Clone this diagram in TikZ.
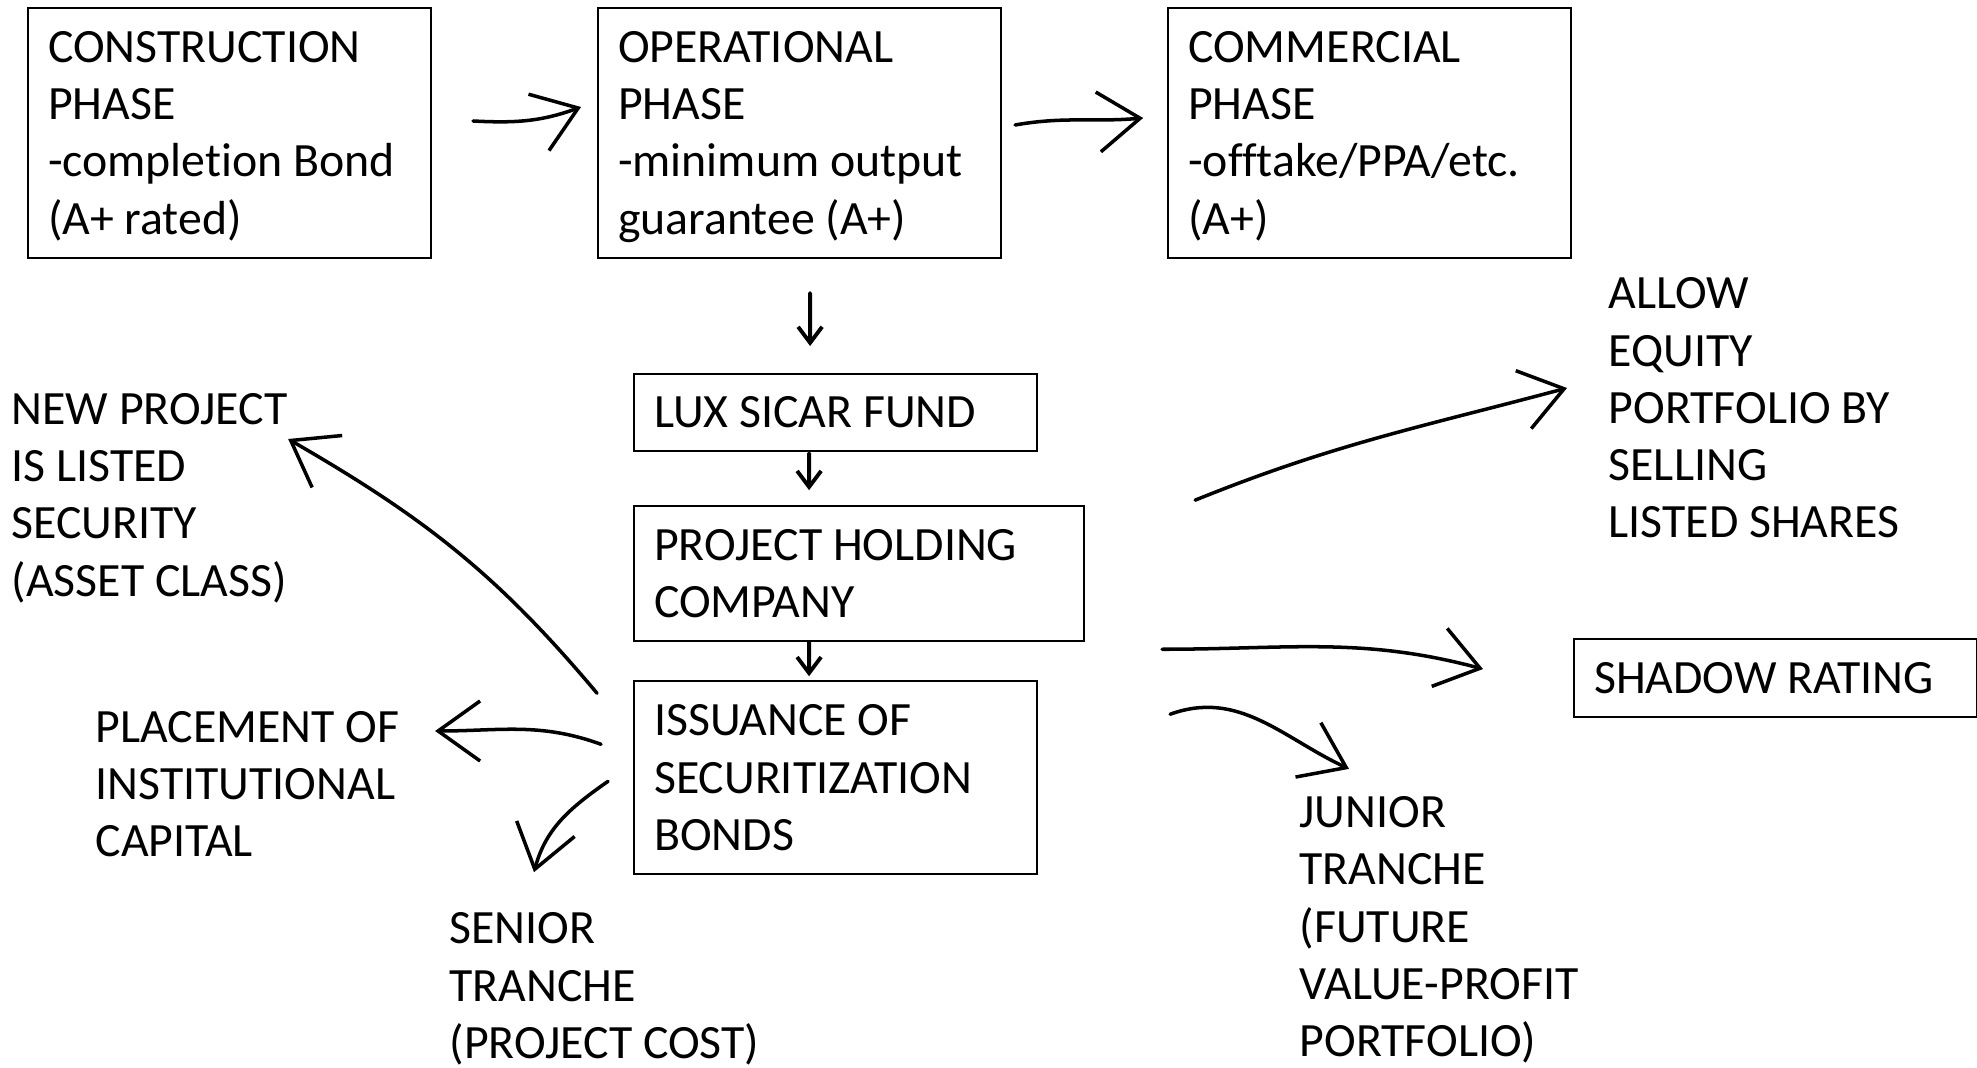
\documentclass[tikz,border=0pt]{standalone}
\usepackage{fontspec}
\setmainfont{Carlito}[Ligatures=NoCommon]
\usetikzlibrary{arrows.meta,positioning,calc}

\begin{document}
\begin{tikzpicture}[
    x=0.1mm, y=-0.1mm,
    font=\fontsize{13.6}{16.3}\selectfont,
    box/.style={rectangle, draw=black, line width=0.6pt, align=flush left, inner xsep=2mm, inner ysep=0.5mm, text width=36.3mm, text height=11pt, text depth=2.3pt},
    phase/.style={box, minimum height=25mm, text depth=51.2pt},
    note/.style={align=left, inner sep=0pt, anchor=west},
    hand/.style={line width=1pt, line cap=round, ->},
    tiny/.style={line width=1.1pt, line cap=round, -{Straight Barb[length=1.6mm, width=2.4mm]}},
    >={Straight Barb[length=4.2mm, width=6mm]}
]
\useasboundingbox (0,0) rectangle (1977,1068);

% --- PHASES ---
\node[phase] at (229.5,133) (cons) {CONSTRUCTION\\PHASE\\-completion Bond\\(A+ rated)};
\node[phase, right=16.5mm of cons] (oper) {OPERATIONAL\\PHASE\\-minimum output\\guarantee (A+)};
\node[phase, right=16.5mm of oper] (comm) {COMMERCIAL\\PHASE\\-offtake/PPA/etc.\\(A+)};

% --- FUND CHAIN ---
\node[box, minimum height=7.7mm, below=11.4mm of oper, xshift=3.6mm] (lux) {LUX SICAR FUND};
\node[box, text width=41mm, minimum height=13.5mm, text depth=18.6pt, below=5.3mm of lux.south west, anchor=north west] (holding) {PROJECT HOLDING\\COMPANY};
\node[box, minimum height=19.3mm, text depth=34.9pt, below=3.8mm of holding.south west, anchor=north west] (issue) {ISSUANCE OF\\SECURITIZATION\\BONDS};
\node[box, minimum height=7.8mm, anchor=north west] at (1573,638) (shadow) {SHADOW RATING};

% --- OUTCOMES ---
\node[note] at (11,498) (newproj) {NEW PROJECT\\IS LISTED\\SECURITY\\(ASSET CLASS)};
\node[note] at (95,784) (place) {PLACEMENT OF\\INSTITUTIONAL\\CAPITAL};
\node[note] at (449,989) (senior) {SENIOR\\TRANCHE\\(PROJECT COST)};
\node[note] at (1299,930) (junior) {JUNIOR\\TRANCHE\\(FUTURE\\VALUE-PROFIT\\PORTFOLIO)};
\node[note] at (1608,408) (allow) {ALLOW\\EQUITY\\PORTFOLIO BY\\SELLING\\LISTED SHARES};

% Arrows
\draw[hand] ([xshift=4.1mm, yshift=1.2mm]cons.east) to[out=-3, in=200] ([xshift=-1.6mm, yshift=2.6mm]oper.west);
\draw[hand] ([xshift=1.3mm, yshift=0.8mm]oper.east) to[out=10, in=185] ([xshift=-2.4mm, yshift=1.5mm]comm.west);

\draw[tiny] ([xshift=1.05mm, yshift=-3.4mm]oper.south) -- ([xshift=-2.55mm, yshift=2.7mm]lux.north);
\draw[tiny] ([xshift=-2.65mm, yshift=-0.1mm]lux.south) -- ([xshift=-5mm, yshift=1.5mm]holding.north);
\draw[tiny] ([xshift=-5mm]holding.south) -- ([xshift=-2.65mm, yshift=0.4mm]issue.north);

\draw[hand] ([xshift=-3.6mm, yshift=-1.3mm]issue.north west) to[out=130, in=-30] ([yshift=5.9mm]newproj.east);
\draw[hand] ([xshift=-3.2mm, yshift=3.35mm]issue.west) to[out=160, in=0] ([xshift=3.5mm, yshift=5.3mm]place.east);
\draw[hand] ([xshift=-2.5mm, yshift=-0.35mm]issue.west) to[out=215, in=75] ([xshift=8.5mm, yshift=4mm]senior.north west);

\draw[hand] ([xshift=11mm, yshift=0.5mm]holding.north east) to[out=22, in=195] ([xshift=-4.1mm, yshift=2mm]allow.west);
\draw[hand] ([xshift=12.4mm, yshift=3.1mm]issue.north east) to[out=0, in=165] ([xshift=-9mm, yshift=0.9mm]shadow.west);
\draw[hand] ([xshift=13.2mm, yshift=-3.4mm]issue.north east) to[out=20, in=155] ([xshift=5mm, yshift=2.7mm]junior.north west);

\end{tikzpicture}
\end{document}
